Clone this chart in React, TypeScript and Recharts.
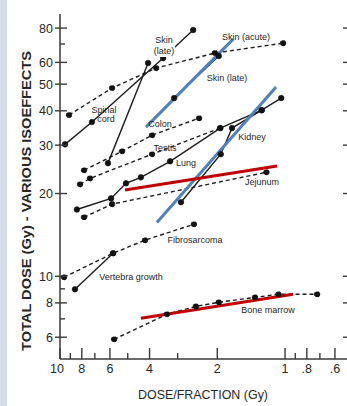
import React from 'react';
import { LineChart, Line, XAxis, YAxis } from 'recharts';

type Pt = { x: number; y: number };

// Dose per fraction (Gy) against total isoeffective dose (Gy), one array per tissue
const skinAcute: Pt[] = [
  { x: 9.12, y: 38.6 }, { x: 5.87, y: 48.4 }, { x: 3.74, y: 57.2 }, { x: 2.05, y: 64.9 }, { x: 1.02, y: 70.5 },
];
const spinalCord: Pt[] = [
  { x: 9.5, y: 30.2 }, { x: 7.21, y: 36.4 }, { x: 3.48, y: 62.2 }, { x: 2.56, y: 78.7 },
];
const skinLateSteep: Pt[] = [
  { x: 6.12, y: 25.8 }, { x: 4.06, y: 59.7 },
];
const skinLate: Pt[] = [
  { x: 3.11, y: 44.5 }, { x: 1.97, y: 63.3 },
];
const colon: Pt[] = [
  { x: 7.82, y: 24.3 }, { x: 5.3, y: 28.5 }, { x: 3.9, y: 32.6 }, { x: 2.41, y: 37.6 },
];
const testis: Pt[] = [
  { x: 8.15, y: 21.6 }, { x: 7.36, y: 22.7 }, { x: 3.9, y: 27.8 }, { x: 1.94, y: 34.6 },
];
const lung: Pt[] = [
  { x: 8.41, y: 17.5 }, { x: 5.93, y: 19.2 }, { x: 5.09, y: 21.8 }, { x: 4.37, y: 22.9 },
  { x: 3.24, y: 26.2 }, { x: 1.94, y: 34.6 }, { x: 1.27, y: 40.2 }, { x: 1.04, y: 44.5 },
];
const kidney: Pt[] = [
  { x: 2.9, y: 18.6 }, { x: 1.93, y: 27.8 }, { x: 1.72, y: 34.6 }, { x: 1.27, y: 40.2 },
];
const jejunum: Pt[] = [
  { x: 7.82, y: 16.4 }, { x: 5.87, y: 18.3 }, { x: 1.21, y: 23.9 },
];
const fibrosarcoma: Pt[] = [
  { x: 9.6, y: 9.92 }, { x: 5.81, y: 12.13 }, { x: 4.19, y: 13.53 }, { x: 2.54, y: 15.47 },
];
const vertebraGrowth: Pt[] = [
  { x: 8.58, y: 8.97 }, { x: 5.81, y: 12.13 },
];
const boneMarrow: Pt[] = [
  { x: 5.75, y: 5.9 }, { x: 3.35, y: 7.27 }, { x: 2.49, y: 7.77 }, { x: 1.97, y: 8.04 },
  { x: 1.36, y: 8.38 }, { x: 1.07, y: 8.6 }, { x: 0.72, y: 8.6 },
];

// Straight-line fits drawn over the curves
const blueFitUpper: Pt[] = [{ x: 4.15, y: 34.9 }, { x: 1.7, y: 72.9 }];
const blueFitLower: Pt[] = [{ x: 3.71, y: 15.7 }, { x: 1.096, y: 48.8 }];
const redFitUpper: Pt[] = [{ x: 5.14, y: 20.6 }, { x: 1.085, y: 25.2 }];
const redFitLower: Pt[] = [{ x: 4.37, y: 7.03 }, { x: 0.921, y: 8.6 }];

// Axis ticks
const xMajorTicks = [10, 8, 6, 4, 2, 1, 0.8, 0.6];
const xMinorTicks = [9, 7, 5, 3, 0.9, 0.7];
const yMajorTicks = [6, 8, 10, 20, 30, 40, 50, 60, 80];
const yMinorTicks = [7, 9, 70];

const curves: { name: string; data: Pt[]; dashed: boolean }[] = [
  { name: 'Skin (acute)', data: skinAcute, dashed: true },
  { name: 'Spinal cord', data: spinalCord, dashed: false },
  { name: 'Skin (late) A', data: skinLateSteep, dashed: false },
  { name: 'Skin (late) B', data: skinLate, dashed: false },
  { name: 'Colon', data: colon, dashed: true },
  { name: 'Testis', data: testis, dashed: true },
  { name: 'Lung', data: lung, dashed: false },
  { name: 'Kidney', data: kidney, dashed: false },
  { name: 'Jejunum', data: jejunum, dashed: true },
  { name: 'Fibrosarcoma', data: fibrosarcoma, dashed: true },
  { name: 'Vertebra growth', data: vertebraGrowth, dashed: false },
  { name: 'Bone marrow', data: boneMarrow, dashed: true },
];

const fits: { name: string; data: Pt[]; color: string }[] = [
  { name: 'fit1', data: blueFitUpper, color: '#4f81bd' },
  { name: 'fit2', data: blueFitLower, color: '#4f81bd' },
  { name: 'fit3', data: redFitUpper, color: '#c00000' },
  { name: 'fit4', data: redFitLower, color: '#c00000' },
];

const FONT = '"Liberation Sans", Arial, sans-serif';
const INK = '#262626';
const AXIS = '#3a3a3a';

const fmtX = (v: number) => (v < 1 ? String(v).replace(/^0/, '') : String(v));

const BottomTick = (props: any) => {
  const { x, y, payload } = props;
  const major = xMajorTicks.includes(payload.value);
  return (
    <g>
      <line x1={x} x2={x} y1={y} y2={y - (major ? 11 : 6)} stroke={AXIS} strokeWidth={1.4} />
      {major && (
        <text x={payload.value === 10 ? x - 3 : x} y={y + 14} textAnchor="middle" fontFamily={FONT} fontSize={12.5} fill={INK}>
          {fmtX(payload.value)}
        </text>
      )}
    </g>
  );
};

const TopTick = (props: any) => {
  const { x, y, payload } = props;
  const major = xMajorTicks.includes(payload.value);
  return <line x1={x} x2={x} y1={y} y2={y + (major ? 10 : 6)} stroke={AXIS} strokeWidth={1.4} />;
};

const LeftTick = (props: any) => {
  const { x, y, payload } = props;
  const major = yMajorTicks.includes(payload.value);
  return (
    <g>
      {major ? (
        <line x1={x - 5} x2={x + 7} y1={y} y2={y} stroke={AXIS} strokeWidth={1.4} />
      ) : (
        <line x1={x} x2={x + 5} y1={y} y2={y} stroke={AXIS} strokeWidth={1.4} />
      )}
      {major && (
        <text x={x - 7} y={y + 4.5} textAnchor="end" fontFamily={FONT} fontSize={12.5} fill={INK}>
          {payload.value}
        </text>
      )}
    </g>
  );
};

const RightTick = (props: any) => {
  const { x, y } = props;
  return <line x1={x} x2={x - 5} y1={y} y2={y} stroke={AXIS} strokeWidth={1.4} />;
};

// Curve name annotations
const notes: { t: string; x: number; y: number }[] = [
  { t: 'Skin (acute)', x: 246, y: 40 },
  { t: 'Skin (late)', x: 227, y: 81 },
  { t: 'Spinal', x: 104, y: 113 },
  { t: 'cord', x: 106, y: 122 },
  { t: 'Colon', x: 160, y: 127 },
  { t: 'Testis', x: 165, y: 151 },
  { t: 'Lung', x: 186, y: 166 },
  { t: 'Kidney', x: 252, y: 140 },
  { t: 'Jejunum', x: 262, y: 185 },
  { t: 'Fibrosarcoma', x: 195, y: 243 },
  { t: 'Vertebra growth', x: 131, y: 280 },
  { t: 'Bone marrow', x: 268, y: 313 },
];

export default function App() {
  return (
    <div
      style={{
        position: 'absolute',
        left: 0,
        top: 0,
        width: 347,
        height: 406,
        overflow: 'hidden',
        background: '#ffffff',
      }}
    >
      <div style={{ position: 'absolute', left: 0, top: 0, width: 7, height: 406, background: '#d5dde8' }} />
      <div style={{ position: 'absolute', left: 0, top: 0 }}>
        <LineChart width={352} height={406} margin={{ top: 14, right: 0, bottom: 0, left: 0 }}>
          <XAxis
            xAxisId="b"
            type="number"
            dataKey="x"
            scale="log"
            domain={[0.525, 10]}
            allowDataOverflow
            reversed
            ticks={[...xMajorTicks, ...xMinorTicks]}
            interval={0}
            tickSize={0}
            tickMargin={0}
            tick={<BottomTick />}
            tickLine={false}
            axisLine={{ stroke: AXIS, strokeWidth: 1.5 }}
            height={47}
          />
          <XAxis
            xAxisId="t"
            orientation="top"
            type="number"
            dataKey="x"
            scale="log"
            domain={[0.525, 10]}
            allowDataOverflow
            reversed
            ticks={[...xMajorTicks, ...xMinorTicks]}
            interval={0}
            tickSize={0}
            tickMargin={0}
            tick={<TopTick />}
            tickLine={false}
            axisLine={{ stroke: AXIS, strokeWidth: 1.5 }}
            height={0}
          />
          <YAxis
            yAxisId="l"
            type="number"
            dataKey="y"
            scale="log"
            domain={[5, 90]}
            allowDataOverflow
            ticks={[...yMajorTicks, ...yMinorTicks]}
            interval={0}
            tickSize={0}
            tickMargin={0}
            tick={<LeftTick />}
            tickLine={false}
            axisLine={{ stroke: AXIS, strokeWidth: 1.5 }}
            width={60}
          />
          <YAxis
            yAxisId="r"
            orientation="right"
            type="number"
            dataKey="y"
            scale="log"
            domain={[5, 90]}
            allowDataOverflow
            ticks={yMajorTicks}
            interval={0}
            tickSize={0}
            tickMargin={0}
            tick={<RightTick />}
            tickLine={false}
            axisLine={{ stroke: AXIS, strokeWidth: 1.5 }}
            width={4}
          />
          {curves.map((c) => (
            <Line
              key={c.name}
              xAxisId="b"
              yAxisId="l"
              data={c.data}
              dataKey="y"
              type="linear"
              stroke="#1c1c1c"
              strokeWidth={1.4}
              strokeDasharray={c.dashed ? '4 3' : undefined}
              dot={{ r: 2.8, fill: '#111', stroke: '#111', strokeWidth: 0.6 }}
              isAnimationActive={false}
              legendType="none"
            />
          ))}
          {fits.map((f) => (
            <Line
              key={f.name}
              xAxisId="b"
              yAxisId="l"
              data={f.data}
              dataKey="y"
              type="linear"
              stroke={f.color}
              strokeWidth={3}
              dot={false}
              isAnimationActive={false}
              legendType="none"
            />
          ))}
        </LineChart>
      </div>
      <svg
        width={347}
        height={406}
        style={{ position: 'absolute', left: 0, top: 0, pointerEvents: 'none' }}
      >
        <rect x={153} y={35} width={22} height={22} fill="#ffffff" />
        <text x={164} y={43} textAnchor="middle" fontFamily={FONT} fontSize={9} fill={INK}>
          Skin
        </text>
        <text x={164} y={54} textAnchor="middle" fontFamily={FONT} fontSize={9} fill={INK}>
          (late)
        </text>
        {notes.map((n) => (
          <text key={n.t} x={n.x} y={n.y} textAnchor="middle" fontFamily={FONT} fontSize={9} fill={INK}>
            {n.t}
          </text>
        ))}
        <text
          x={203}
          y={399}
          textAnchor="middle"
          fontFamily={FONT}
          fontSize={13}
          fill={INK}
          textLength={130}
          lengthAdjust="spacingAndGlyphs"
        >
          DOSE/FRACTION (Gy)
        </text>
        <text
          transform="translate(31,201) rotate(-90)"
          textAnchor="middle"
          fontFamily={FONT}
          fontSize={13}
          fontWeight="bold"
          fill={INK}
          textLength={300}
          lengthAdjust="spacingAndGlyphs"
        >
          TOTAL DOSE (Gy) - VARIOUS ISOEFFECTS
        </text>
      </svg>
    </div>
  );
}
